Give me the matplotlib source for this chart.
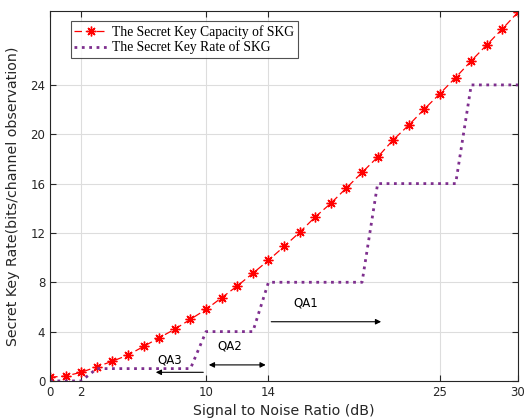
import matplotlib
matplotlib.use("Agg")
import matplotlib.pyplot as plt
import numpy as np

snr = list(range(0, 31))
capacity = [0.3, 0.4, 0.7, 1.15, 1.6, 2.1, 2.8, 3.5, 4.2, 5.0, 5.8, 6.75, 7.7, 8.73, 9.78,
            10.9, 12.05, 13.3, 14.4, 15.65, 16.9, 18.15, 19.55, 20.75, 22.05, 23.3, 24.6,
            25.95, 27.25, 28.55, 29.9]

rate_snr = [0, 2, 3, 9, 10, 13, 14, 20, 21, 26, 27, 30]
rate = [0, 0, 1, 1, 4, 4, 8, 8, 16, 16, 24, 24]

xticks = [0, 2, 10, 14, 25, 30]
yticks = [0, 4, 8, 12, 16, 20, 24]

fig = plt.figure(figsize=(5.27, 4.2), dpi=100)
ax = fig.add_axes([0.095, 0.093, 0.888, 0.881])

ax.plot(snr, capacity, linestyle=(0, (6, 3)), color='red', linewidth=0.9,
        marker=(8, 2, 0), markersize=7, markeredgewidth=1.0,
        label='The Secret Key Capacity of SKG')
ax.plot(rate_snr, rate, linestyle=':', color='#7E2F8E', linewidth=2,
        label='The Secret Key Rate of SKG')

ax.set_xlim(0, 30)
ax.set_ylim(0, 30)
ax.set_xticks(xticks)
ax.set_yticks(yticks)
ax.grid(True, color='#dddddd', linewidth=0.8)
ax.set_axisbelow(True)
ax.tick_params(direction='in', top=True, right=True, labelsize=8.5, length=4,
               colors='#262626')
for s in ax.spines.values():
    s.set_color('#262626')
    s.set_linewidth(0.8)

ax.set_xlabel('Signal to Noise Ratio (dB)', fontsize=10.2, color='#262626', labelpad=4)
ax.set_ylabel('Secret Key Rate(bits/channel observation)', fontsize=10.2, color='#262626', labelpad=7)

leg = ax.legend(loc='upper left', bbox_to_anchor=(0.03, 0.99),
                prop={'family': 'Liberation Serif', 'size': 9.8},
                frameon=True, fancybox=False, edgecolor='#262626',
                handlelength=2.4, borderpad=0.25, labelspacing=0.15, handletextpad=0.4)
leg.get_frame().set_linewidth(0.8)

arrow_kw = dict(arrowstyle='-|>', color='black', lw=0.8, mutation_scale=8)
ax.annotate('', xy=(6.6, 0.7), xytext=(10, 0.7), arrowprops=arrow_kw)
ax.annotate('', xy=(10, 1.3), xytext=(14, 1.3),
            arrowprops=dict(arrowstyle='<|-|>', color='black', lw=0.8, mutation_scale=8))
ax.annotate('', xy=(21.4, 4.8), xytext=(14, 4.8), arrowprops=arrow_kw)
ax.text(7.7, 1.7, 'QA3', fontsize=8.5, ha='center', va='center')
ax.text(11.5, 2.8, 'QA2', fontsize=8.5, ha='center', va='center')
ax.text(16.4, 6.35, 'QA1', fontsize=8.5, ha='center', va='center')

fig.savefig('out.png', dpi=100)
